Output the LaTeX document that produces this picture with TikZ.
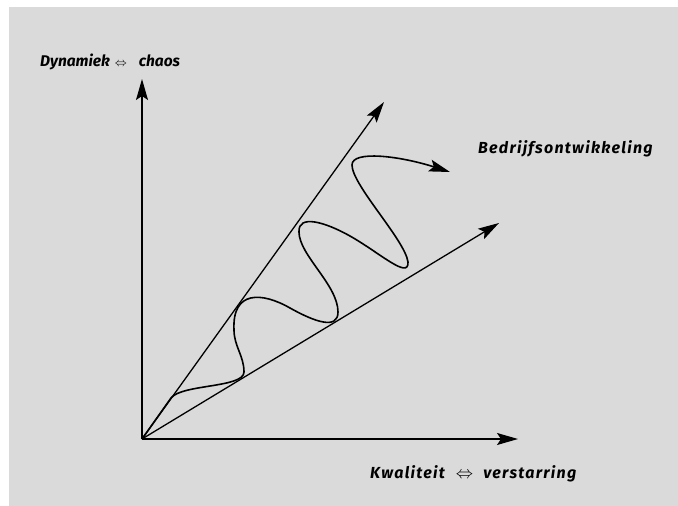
\documentclass[tikz,border=0pt]{standalone}
\usepackage{fontspec}
\setmainfont{Fira Sans}
\usetikzlibrary{arrows.meta}
\definecolor{bggray}{RGB}{218,218,218}
\newcommand{\eqvsym}[1]{{\fontsize{#1}{#1}\selectfont$\Leftrightarrow$}}
\begin{document}
\begin{tikzpicture}[x=1pt,y=-1pt,
  axis/.style={line width=1.3pt,-{Stealth[length=21pt,width=12pt,inset=4pt]}},
  wave/.style={line width=1.6pt,-{Stealth[length=21pt,width=12pt,inset=4pt]}},
  lbl/.style={font=\bfseries\itshape\fontsize{16}{19}\selectfont,inner sep=0pt,anchor=base west},
  ylbl/.style={font=\bfseries\itshape\fontsize{15.5}{19}\selectfont},
  wide/.style={font=\bfseries\itshape\fontsize{16}{19}\selectfont\addfontfeature{LetterSpace=8}}]
\useasboundingbox (0,0) rectangle (678,506);
\fill[bggray] (9,7) rectangle (678,506);
\coordinate (O) at (142,439);
\coordinate (ytip) at (142,79);
\coordinate (xtip) at (518,439);
\coordinate (utip) at (384,102);
\coordinate (ltip) at (499,223);
\coordinate (wtip) at (450,172);
\draw[axis] (O) -- (ytip);
\draw[axis] (O) -- (xtip);
\draw[axis] (O) -- (utip);
\draw[axis] (O) -- (ltip);
\draw[wave,line join=round] (O) -- (171,398)
  .. controls (182,384) and (244,388) .. (244,372)
  .. controls (244,356) and (234,346) .. (234,330)
  .. controls (232,290) and (262,292) .. (290,308)
  .. controls (315,322) and (338,330) .. (338,312)
  .. controls (338,285) and (299,255) .. (299,232)
  .. controls (298,214) and (325,222) .. (350,236)
  .. controls (380,253) and (409,280) .. (408,262)
  .. controls (405,240) and (352,185) .. (352,165)
  .. controls (352,150) and (400,156) .. (wtip);
\node[lbl,ylbl] (ylab) at (40,66) {Dynamiek\hspace{5pt}\eqvsym{12}\hspace{12pt}chaos};
\node[lbl,wide] (wlab) at (478,153) {Bedrijfsontwikkeling};
\node[lbl,wide] (xlab) at (370,478) {Kwaliteit\hspace{11pt}\eqvsym{19}\hspace{10pt}verstarring};
\end{tikzpicture}
\end{document}
